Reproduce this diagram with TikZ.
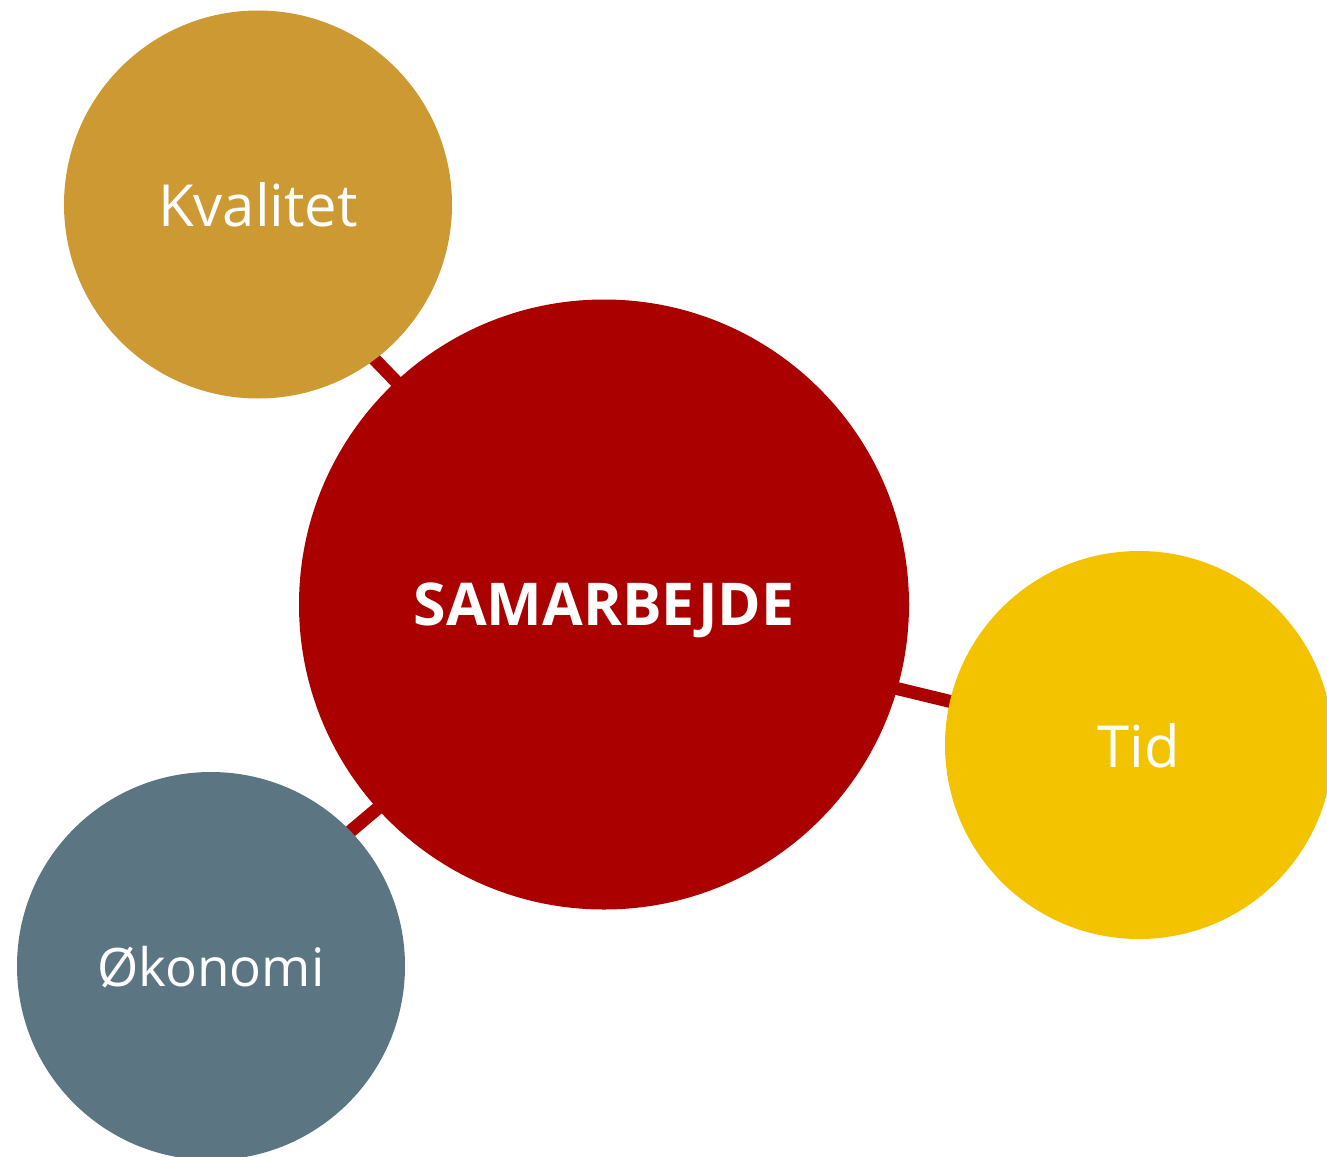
\documentclass[tikz,border=0pt]{standalone}
\usepackage{fontspec}
\setmainfont{Open Sans}
\usetikzlibrary{backgrounds}
\definecolor{cred}{RGB}{170,0,0}
\definecolor{cgold}{RGB}{204,153,51}
\definecolor{cyellow}{RGB}{243,195,0}
\definecolor{cslate}{RGB}{91,117,130}
\tikzset{
  bubble/.style={circle, inner sep=0pt, text=white, text depth=0pt, font=\fontsize{58}{66}\selectfont},
  small/.style={bubble, minimum size=388pt},
  big/.style={bubble, minimum size=610pt, fill=cred, font=\fontsize{59}{66}\selectfont\bfseries},
  link/.style={draw=cred, line width=13pt, shorten <=-12pt, shorten >=-12pt}
}
\begin{document}
\begin{tikzpicture}[x=1pt,y=-1pt]
\useasboundingbox (0,0) rectangle (1327,1156);
\node[big] (sam) at (604,604.5) {SAMARBEJDE};
\node[small, fill=cgold] (kval) at (258,204.5) {Kvalitet};
\node[small, fill=cyellow] (tid) at (1139,745) {Tid};
\node[small, fill=cslate, font=\fontsize{53}{60}\selectfont] (oko) at (211,966) {Økonomi};
\begin{scope}[on background layer]
\draw[link] (kval.-53) -- (sam.133);
\draw[link] (sam.-16.4) -- (tid.167.8);
\draw[link] (oko.44.5) -- (sam.222.1);
\end{scope}
\end{tikzpicture}
\end{document}
